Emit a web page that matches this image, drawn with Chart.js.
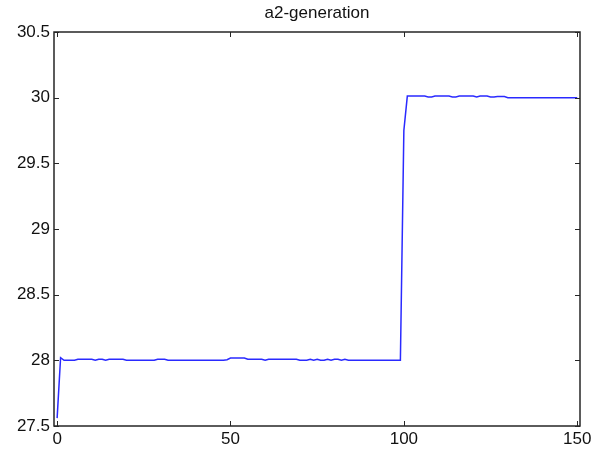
<!DOCTYPE html>
<html>
<head>
<meta charset="utf-8">
<title>a2-generation</title>
<script src="https://cdn.jsdelivr.net/npm/chart.js@4/dist/chart.umd.min.js"></script>
<style>
    html, body { margin: 0; padding: 0; background: #fff; }
    #wrap { width: 600px; height: 452px; }
</style>
</head>
<body>
<div id="wrap"><canvas id="a2Chart" width="600" height="452"></canvas></div>
<script>
const chartTitle = 'a2-generation';

// a2 value per generation (0..150)
const a2Values = [
    27.56, 28.02, 28.0, 28.0, 28.0, 28.0, 28.008, 28.008, 28.008, 28.008,
    28.008, 28.0, 28.008, 28.008, 28.0, 28.008, 28.008, 28.008, 28.008, 28.008,
    28.0, 28.0, 28.0, 28.0, 28.0, 28.0, 28.0, 28.0, 28.0, 28.008,
    28.008, 28.008, 28.0, 28.0, 28.0, 28.0, 28.0, 28.0, 28.0, 28.0,
    28.0, 28.0, 28.0, 28.0, 28.0, 28.0, 28.0, 28.0, 28.0, 28.005,
    28.018, 28.018, 28.018, 28.018, 28.018, 28.008, 28.008, 28.008, 28.008, 28.008,
    28.0, 28.008, 28.008, 28.008, 28.008, 28.008, 28.008, 28.008, 28.008, 28.008,
    28.0, 28.0, 28.0, 28.008, 28.0, 28.008, 28.0, 28.0, 28.008, 28.0,
    28.008, 28.008, 28.0, 28.008, 28.0, 28.0, 28.0, 28.0, 28.0, 28.0,
    28.0, 28.0, 28.0, 28.0, 28.0, 28.0, 28.0, 28.0, 28.0, 28.0,
    29.75, 30.012, 30.012, 30.012, 30.012, 30.012, 30.012, 30.005, 30.005, 30.012,
    30.012, 30.012, 30.012, 30.012, 30.005, 30.005, 30.012, 30.012, 30.012, 30.012,
    30.012, 30.005, 30.012, 30.012, 30.012, 30.005, 30.005, 30.008, 30.008, 30.008,
    30.0, 30.0, 30.0, 30.0, 30.0, 30.0, 30.0, 30.0, 30.0, 30.0,
    30.0, 30.0, 30.0, 30.0, 30.0, 30.0, 30.0, 30.0, 30.0, 30.0,
    30.0
];

const xTicks = [0, 50, 100, 150];
const yTicks = [27.5, 28, 28.5, 29, 29.5, 30, 30.5];

const fontFamily = '"Liberation Sans", Arial, Helvetica, sans-serif';
const axisColor = '#262626';

// matlab style box, inward tick marks and title over the plot area
const matlabBox = {
    id: 'matlabBox',
    afterDraw(chart) {
        const { ctx, chartArea: a, scales } = chart;
        const len = 5;
        ctx.save();
        ctx.strokeStyle = axisColor;
        ctx.lineWidth = 1.5;
        ctx.strokeRect(a.left, a.top, a.right - a.left, a.bottom - a.top);
        ctx.lineWidth = 1;
        ctx.beginPath();
        xTicks.forEach(v => {
            const px = Math.round(scales.x.getPixelForValue(v)) + 0.5;
            ctx.moveTo(px, a.bottom); ctx.lineTo(px, a.bottom - len);
            ctx.moveTo(px, a.top); ctx.lineTo(px, a.top + len);
        });
        yTicks.forEach(v => {
            const py = Math.round(scales.y.getPixelForValue(v)) + 0.5;
            ctx.moveTo(a.left, py); ctx.lineTo(a.left + len, py);
            ctx.moveTo(a.right, py); ctx.lineTo(a.right - len, py);
        });
        ctx.stroke();

        ctx.fillStyle = '#111';
        ctx.font = '17px ' + fontFamily;
        ctx.textAlign = 'center';
        ctx.textBaseline = 'middle';
        ctx.fillText(chartTitle, (a.left + a.right) / 2, 13);
        ctx.restore();
    }
};

document.addEventListener('DOMContentLoaded', () => {
    const ctx = document.getElementById('a2Chart').getContext('2d');
    new Chart(ctx, {
        type: 'line',
        data: {
            datasets: [{
                label: chartTitle,
                data: a2Values.map((v, i) => ({ x: i, y: v })),
                borderColor: '#2a2aff',
                borderWidth: 1.5,
                pointRadius: 0,
                tension: 0,
                fill: false
            }]
        },
        options: {
            responsive: false,
            animation: false,
            layout: { padding: { top: 32, right: 20, left: 0, bottom: 0 } },
            plugins: {
                legend: { display: false },
                tooltip: { enabled: false },
                title: { display: false }
            },
            scales: {
                x: {
                    type: 'linear',
                    min: -0.9,
                    max: 150.8,
                    afterBuildTicks: scale => { scale.ticks = xTicks.map(v => ({ value: v })); },
                    afterFit: scale => { scale.height = 26; },
                    grid: { display: false, drawTicks: false },
                    border: { display: false },
                    ticks: {
                        color: '#111',
                        padding: 3,
                        maxRotation: 0,
                        font: { family: fontFamily, size: 17 }
                    }
                },
                y: {
                    min: 27.5,
                    max: 30.5,
                    afterBuildTicks: scale => { scale.ticks = yTicks.map(v => ({ value: v })); },
                    afterFit: scale => { scale.width = 54; },
                    grid: { display: false, drawTicks: false },
                    border: { display: false },
                    ticks: {
                        color: '#111',
                        padding: 4,
                        font: { family: fontFamily, size: 17 },
                        callback: v => String(v)
                    }
                }
            }
        },
        plugins: [matlabBox]
    });
});
</script>
</body>
</html>
